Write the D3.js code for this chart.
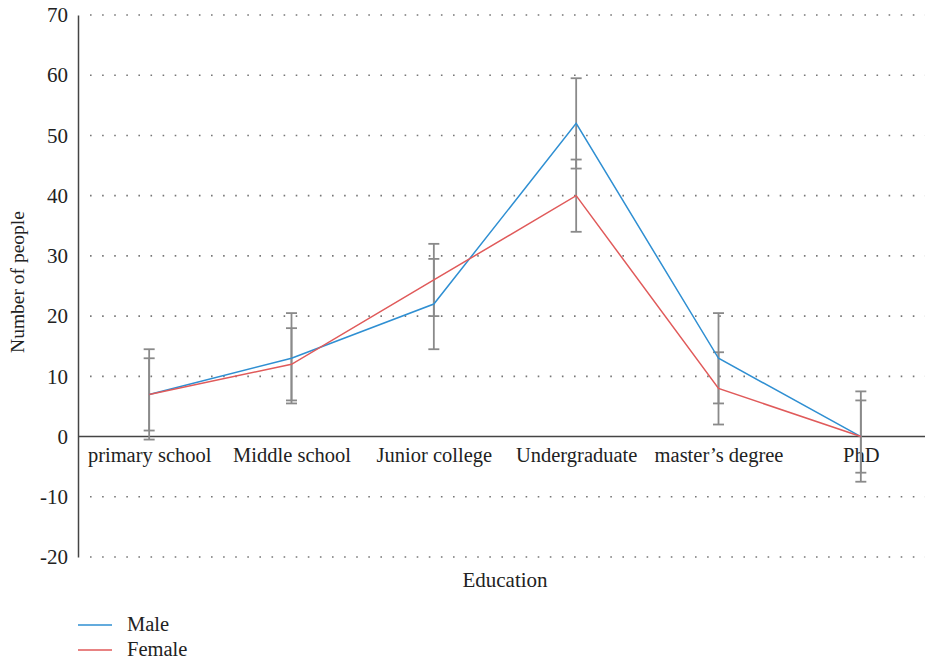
<!DOCTYPE html>
<html>
<head>
<meta charset="utf-8">
<script src="https://cdn.jsdelivr.net/npm/d3@7"></script>
<style>
body{margin:0;background:#fff;}
svg text{font-family:"Liberation Serif","Times New Roman",serif !important;fill:#222;}
</style>
</head>
<body>
<svg id="c" width="925" height="663"></svg>
<script>
const categories = ["primary school","Middle school","Junior college","Undergraduate","master\u2019s degree","PhD"];
const maleValues = [7,13,22,52,13,0];
const femaleValues = [7,12,26,40,8,0];
const maleError = [7.5,7.5,7.5,7.5,7.5,7.5];
const femaleError = [6,6,6,6,6,6];
const yTicks = [-20,-10,0,10,20,30,40,50,60,70];
const seriesNames = ["Male","Female"];
const colors = ["#2f8fd2","#e05a5a"];
const serif = "'Liberation Serif','Times New Roman',serif";

const svg = d3.select("#c");
const x = d3.scalePoint().domain(categories).range([78,932]).padding(0.5);
const y = d3.scaleLinear().domain([-20,70]).range([557,15]);

// grid
svg.append("g").selectAll("line").data(yTicks.filter(d=>d!==0)).join("line")
  .attr("x1",90).attr("x2",925).attr("y1",d=>y(d)).attr("y2",d=>y(d))
  .attr("stroke","#777").attr("stroke-width",1.6).attr("stroke-dasharray","1.6,10.5");

// y axis
const yAxis = d3.axisLeft(y).tickValues(yTicks).tickSize(0).tickPadding(10)
  .tickFormat(d=>String(d));
const yg = svg.append("g").attr("transform","translate(78,0)").call(yAxis);
yg.attr("font-family",serif);
yg.select(".domain").attr("stroke","#444").attr("stroke-width",1.5);
yg.selectAll("text").style("font-size","21px").style("font-family",serif).attr("fill","#222");

// zero line
svg.append("line").attr("x1",78).attr("x2",925).attr("y1",y(0)).attr("y2",y(0))
  .attr("stroke","#444").attr("stroke-width",1.5);

// x labels
const xAxis = d3.axisBottom(x).tickSize(0).tickPadding(11);
const xg = svg.append("g").attr("transform",`translate(0,${y(0)})`).call(xAxis);
xg.attr("font-family",serif);
xg.select(".domain").remove();
xg.selectAll("text").style("font-size","20.5px").style("font-family",serif).attr("fill","#222");

// error bars
const series = [
  {name:seriesNames[0], vals:maleValues, err:maleError, color:colors[0]},
  {name:seriesNames[1], vals:femaleValues, err:femaleError, color:colors[1]}
];
const eb = svg.append("g").attr("stroke","#8a8a8a").attr("stroke-width",1.8);
series.forEach(s=>{
  categories.forEach((c,i)=>{
    const cx = x(c), lo = y(s.vals[i]-s.err[i]), hi = y(s.vals[i]+s.err[i]);
    eb.append("line").attr("x1",cx).attr("x2",cx).attr("y1",lo).attr("y2",hi);
    eb.append("line").attr("x1",cx-5.5).attr("x2",cx+5.5).attr("y1",lo).attr("y2",lo);
    eb.append("line").attr("x1",cx-5.5).attr("x2",cx+5.5).attr("y1",hi).attr("y2",hi);
  });
});

// lines
const line = d3.line().x((d,i)=>x(categories[i])).y(d=>y(d));
series.forEach(s=>{
  svg.append("path").datum(s.vals).attr("d",line).attr("fill","none")
    .attr("stroke",s.color).attr("stroke-width",1.5);
});

// axis titles
svg.append("text").attr("x",505).attr("y",587).attr("text-anchor","middle")
  .style("font-size","21px").style("font-family",serif).text("Education");
svg.append("text").attr("transform","translate(24,282) rotate(-90)").attr("text-anchor","middle")
  .style("font-size","19.5px").style("font-family",serif).text("Number of people");

// legend
const lg = svg.append("g");
series.forEach((s,i)=>{
  const ly = 625 + i*25;
  lg.append("line").attr("x1",78).attr("x2",112).attr("y1",ly).attr("y2",ly)
    .attr("stroke",s.color).attr("stroke-width",1.5);
  lg.append("text").attr("x",127).attr("y",ly+6).style("font-size","20.5px")
    .style("font-family",serif).text(s.name);
});
</script>
</body>
</html>
